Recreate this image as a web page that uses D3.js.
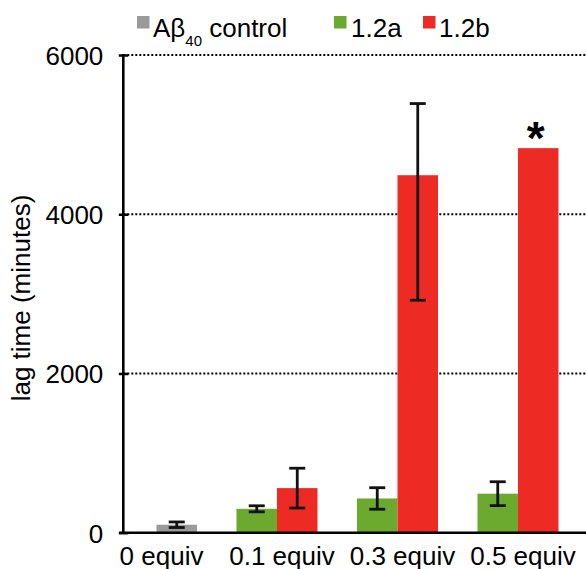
<!DOCTYPE html>
<html>
<head>
<meta charset="utf-8">
<script src="https://cdn.jsdelivr.net/npm/d3@7"></script>
<style>
  html, body { margin: 0; padding: 0; background: #fff; }
  svg { display: block; font-family: "Liberation Sans", Arial, Helvetica, sans-serif; }
</style>
</head>
<body>
<svg id="chart" width="586" height="569"></svg>
<script>
// ---- data ----
const categories = ["0 equiv", "0.1 equiv", "0.3 equiv", "0.5 equiv"];
const controlValues = [100, null, null, null];
const controlErrors = [35, null, null, null];
const a12Values = [null, 300, 430, 490];
const a12ErrLow = [null, 38, 135, 150];
const a12ErrHigh = [null, 38, 135, 150];
const b12Values = [null, 560, 4490, 4830];
const b12ErrLow = [null, 250, 1570, null];
const b12ErrHigh = [null, 250, 900, null];
const b12Marks = ["", "", "", "*"];
const yTicks = [0, 2000, 4000, 6000];
const gridValues = [2000, 4000, 6000];
const legendLabels = ["Aβ", "1.2a", "1.2b"];

const colors = { control: "#9a9a9a", a: "#6baa2f", b: "#ee2a24" };

// ---- layout ----
const svg = d3.select("#chart");
const y = d3.scaleLinear().domain([0, 6000]).range([532.7, 55]);
const x0 = d3.scalePoint().domain(categories).range([156.5, 518]);
const x1 = d3.scaleBand().domain(["left", "right"]).range([-40.5, 40.5]);
const axisX = 123.3;
const rightEdge = 590;

// gridlines
svg.append("g").selectAll("line").data(gridValues).join("line")
  .attr("x1", axisX).attr("x2", rightEdge)
  .attr("y1", d => y(d)).attr("y2", d => y(d))
  .attr("stroke", "#000").attr("stroke-width", 2)
  .attr("stroke-dasharray", "2,2");

// series rows
const rows = [];
categories.forEach((c, i) => {
  if (controlValues[i] != null) rows.push({ c, slot: "right", v: controlValues[i], lo: controlErrors[i], hi: controlErrors[i], color: colors.control, mark: "" });
  if (a12Values[i] != null) rows.push({ c, slot: "left", v: a12Values[i], lo: a12ErrLow[i], hi: a12ErrHigh[i], color: colors.a, mark: "" });
  if (b12Values[i] != null) rows.push({ c, slot: "right", v: b12Values[i], lo: b12ErrLow[i], hi: b12ErrHigh[i], color: colors.b, mark: b12Marks[i] });
});

// bars
svg.append("g").selectAll("rect").data(rows).join("rect")
  .attr("x", d => x0(d.c) + x1(d.slot))
  .attr("width", x1.bandwidth())
  .attr("y", d => y(d.v))
  .attr("height", d => y(0) - y(d.v))
  .attr("fill", d => d.color);

// error bars
const eb = svg.append("g").selectAll("g").data(rows.filter(d => d.lo != null)).join("g")
  .attr("stroke", "#111").attr("stroke-width", 2.8);
const cx = d => x0(d.c) + x1(d.slot) + x1.bandwidth() / 2;
eb.append("line").attr("x1", cx).attr("x2", cx)
  .attr("y1", d => y(d.v + d.hi)).attr("y2", d => y(d.v - d.lo));
eb.append("line").attr("x1", d => cx(d) - 8).attr("x2", d => cx(d) + 8)
  .attr("y1", d => y(d.v + d.hi)).attr("y2", d => y(d.v + d.hi));
eb.append("line").attr("x1", d => cx(d) - 8).attr("x2", d => cx(d) + 8)
  .attr("y1", d => y(d.v - d.lo)).attr("y2", d => y(d.v - d.lo));

// significance marks
svg.append("g").selectAll("text").data(rows.filter(d => d.mark)).join("text")
  .attr("x", d => cx(d) - 2.5)
  .attr("y", d => y(d.v) + 6)
  .attr("text-anchor", "middle")
  .attr("font-size", 46).attr("font-weight", "bold")
  .text(d => d.mark);

// y axis
const yAxis = svg.append("g").attr("transform", `translate(${axisX},0)`)
  .call(d3.axisLeft(y).tickValues(yTicks).tickSize(4).tickFormat(d3.format("d")));
yAxis.select(".domain").remove();
yAxis.selectAll(".tick line").attr("x1", 5).attr("x2", -4.5).attr("stroke", "#000").attr("stroke-width", 2.5);
yAxis.selectAll(".tick text").attr("x", -20).attr("dy", "0.36em")
  .attr("font-size", 26).attr("font-family", "Liberation Sans, Arial, sans-serif").attr("fill", "#000");
svg.append("line").attr("x1", axisX).attr("x2", axisX).attr("y1", y(6000) - 1).attr("y2", y(0))
  .attr("stroke", "#000").attr("stroke-width", 2.6);

// x axis
svg.append("line").attr("x1", 119).attr("x2", rightEdge).attr("y1", y(0)).attr("y2", y(0))
  .attr("stroke", "#000").attr("stroke-width", 2.6);
svg.append("g").selectAll("text").data(categories).join("text")
  .attr("x", d => x0(d) + 5)
  .attr("y", 565)
  .attr("text-anchor", "middle")
  .attr("font-size", 26)
  .text(d => d);

// y label
svg.append("text")
  .attr("transform", "translate(30,298) rotate(-90)")
  .attr("text-anchor", "middle")
  .attr("font-size", 26)
  .text("lag time (minutes)");

// legend
const legendItems = [
  { label: legendLabels[0], sub: "40", rest: " control", color: colors.control, sx: 137, tx: 153 },
  { label: legendLabels[1], sub: null, rest: "", color: colors.a, sx: 334, tx: 351 },
  { label: legendLabels[2], sub: null, rest: "", color: colors.b, sx: 423, tx: 439 }
];
const lg = svg.append("g");
legendItems.forEach(it => {
  lg.append("rect").attr("x", it.sx).attr("y", 16).attr("width", 12.5).attr("height", 12.5).attr("fill", it.color);
  const t = lg.append("text").attr("x", it.tx).attr("y", 37).attr("font-size", 26);
  t.append("tspan").text(it.label);
  if (it.sub) {
    t.append("tspan").attr("font-size", 15).attr("dy", 9).text(it.sub);
    t.append("tspan").attr("dy", -9).text(it.rest);
  }
});
</script>
</body>
</html>
